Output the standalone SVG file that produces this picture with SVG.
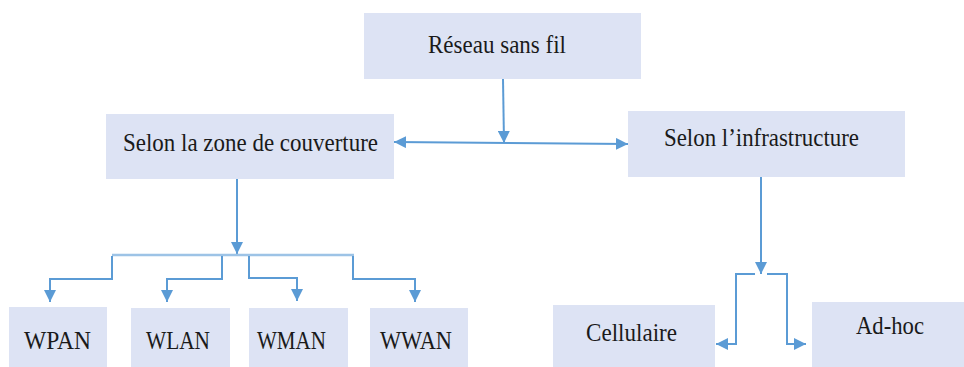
<svg xmlns="http://www.w3.org/2000/svg" width="964" height="367" viewBox="0 0 964 367">
  <style>
    .box { fill: #dde3f4; }
    .lbl { font-family: "Liberation Serif", "Times New Roman", serif; font-size: 26px; fill: #1a1a1a; }
    .wire { fill: none; stroke: #5b9bd5; stroke-width: 2; }
    .bus { fill: none; stroke: #9dc3e6; stroke-width: 2.5; }
  </style>
  <defs>
    <marker id="tip" viewBox="0 0 12 12" refX="12" refY="6" markerWidth="12" markerHeight="12" markerUnits="userSpaceOnUse" orient="auto-start-reverse">
      <path d="M0,0 L12,6 L0,12 Z" fill="#5b9bd5"/>
    </marker>
  </defs>
  <rect width="964" height="367" fill="#ffffff"/>

  <g id="reseau">
    <rect class="box" x="364" y="13" width="277" height="66"/>
    <text class="lbl" x="428" y="53" textLength="138" lengthAdjust="spacingAndGlyphs">Réseau sans fil</text>
  </g>
  <g id="zone">
    <rect class="box" x="106" y="114" width="288" height="65"/>
    <text class="lbl" x="123" y="151" textLength="255" lengthAdjust="spacingAndGlyphs">Selon la zone de couverture</text>
  </g>
  <g id="infra">
    <rect class="box" x="628" y="111" width="277" height="66"/>
    <text class="lbl" x="664" y="146" textLength="195" lengthAdjust="spacingAndGlyphs">Selon l’infrastructure</text>
  </g>
  <g id="wpan">
    <rect class="box" x="9" y="307" width="98" height="60"/>
    <text class="lbl" x="24" y="349" textLength="67" lengthAdjust="spacingAndGlyphs">WPAN</text>
  </g>
  <g id="wlan">
    <rect class="box" x="131" y="308" width="99" height="59"/>
    <text class="lbl" x="146" y="349" textLength="64" lengthAdjust="spacingAndGlyphs">WLAN</text>
  </g>
  <g id="wman">
    <rect class="box" x="249" y="308" width="99" height="59"/>
    <text class="lbl" x="257" y="349" textLength="69" lengthAdjust="spacingAndGlyphs">WMAN</text>
  </g>
  <g id="wwan">
    <rect class="box" x="370" y="308" width="98" height="59"/>
    <text class="lbl" x="380" y="349" textLength="72" lengthAdjust="spacingAndGlyphs">WWAN</text>
  </g>
  <g id="cellulaire">
    <rect class="box" x="553" y="305" width="162" height="62"/>
    <text class="lbl" x="586" y="341" textLength="91" lengthAdjust="spacingAndGlyphs">Cellulaire</text>
  </g>
  <g id="adhoc">
    <rect class="box" x="812" y="302" width="152" height="65"/>
    <text class="lbl" x="856" y="334" textLength="68" lengthAdjust="spacingAndGlyphs">Ad-hoc</text>
  </g>

  <g id="connectors">
    <!-- root split -->
    <path class="wire" d="M503,79 L504,143" marker-end="url(#tip)"/>
    <path class="wire" d="M394,142 L628,144" marker-start="url(#tip)" marker-end="url(#tip)"/>
    <!-- coverage tree -->
    <path class="wire" d="M237,179 L237,254" marker-end="url(#tip)"/>
    <path class="bus" d="M112,255 L354,255"/>
    <path class="wire" d="M112,256 L112,279 L50,279 L50,302" marker-end="url(#tip)"/>
    <path class="wire" d="M222,256 L222,279 L167,279 L167,302" marker-end="url(#tip)"/>
    <path class="wire" d="M249,256 L249,278 L297,278 L297,301" marker-end="url(#tip)"/>
    <path class="wire" d="M353,256 L353,279 L415,279 L415,302" marker-end="url(#tip)"/>
    <!-- infrastructure tree -->
    <path class="wire" d="M761,177 L761,274" marker-end="url(#tip)"/>
    <path class="wire" d="M755,274 L736,274 L736,344 L716,344" marker-end="url(#tip)"/>
    <path class="wire" d="M767,274 L787,274 L787,344 L806,344" marker-end="url(#tip)"/>
  </g>
</svg>
